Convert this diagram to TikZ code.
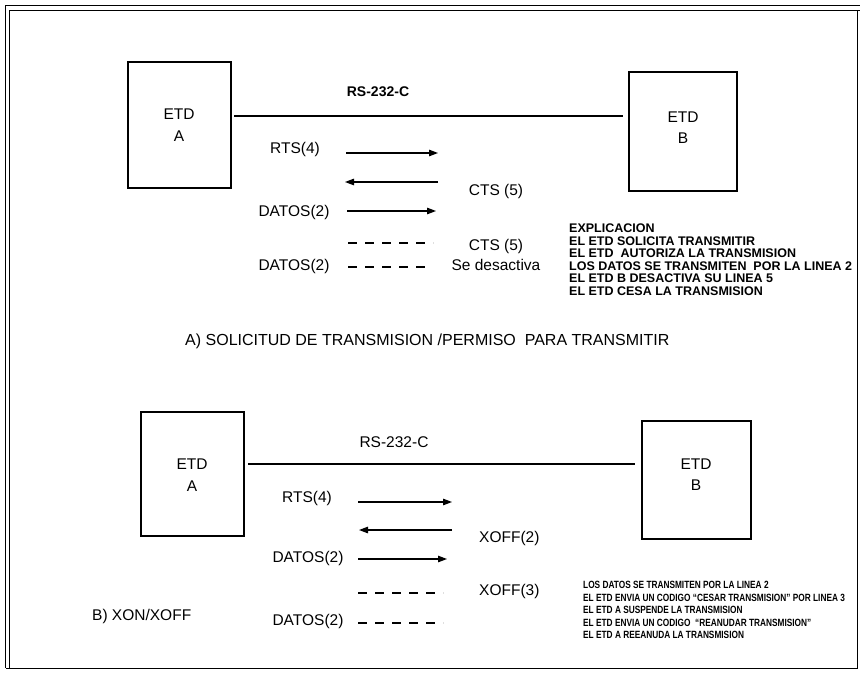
\documentclass[tikz,border=0pt]{standalone}
\usepackage{fontspec}
\setmainfont{Liberation Sans}
\newfontfamily\condfont[FakeStretch=0.79,Ligatures=TeX]{Liberation Sans}
\usetikzlibrary{arrows.meta}
\tikzset{
  ln/.style={line width=1.1pt},
  frameln/.style={line width=1pt},
  etdbox/.style={draw,line width=1.2pt,inner sep=0pt},
  lab/.style={inner sep=0pt,anchor=base,font=\fontsize{15.5}{18}\selectfont},
  labw/.style={inner sep=0pt,anchor=base west,font=\fontsize{15.5}{18}\selectfont},
  rsup/.style={inner sep=0pt,anchor=base,font=\fontsize{14}{16}\selectfont\bfseries},
  explA/.style={inner sep=0pt,anchor=base west,font=\fontsize{12.5}{14}\selectfont\bfseries},
  explB/.style={inner sep=0pt,anchor=base west,font=\condfont\fontsize{10.5}{12}\selectfont\bfseries},
  arr/.style={line width=1.2pt,-{Triangle[length=9pt,width=6.5pt]}},
  dsh/.style={line width=1.2pt,dash pattern=on 9pt off 8pt}
}
\begin{document}
\begin{tikzpicture}[x=1pt,y=-1pt]
\useasboundingbox (0,0) rectangle (860,674);
% frame
\draw[frameln] (5.5,668) -- (5.5,6) -- (860,6);
\draw[frameln] (9.5,668) -- (9.5,11) -- (860,11);
\draw[frameln] (857.5,11) -- (857.5,668) -- (5.5,668);

% ===== upper part =====
\node[etdbox,minimum width=103pt,minimum height=126pt] (boxA1) at (179.5,125) {};
\node[etdbox,minimum width=108pt,minimum height=119pt] (boxB1) at (683,131.5) {};
\node[lab] (etdA1) at (179,119.6) {ETD};
\node[lab] (lA1) at (179,141.6) {A};
\node[lab] (etdB1) at (683,122.6) {ETD};
\node[lab] (lB1) at (683,143.6) {B};
\coordinate (rs1a) at (234,116);
\coordinate (rs1b) at (623,116);
\draw[ln] (rs1a) -- (rs1b);
\node[rsup] (rs1) at (378,97) {RS-232-C};

\node[lab] (rts1) at (295,153.6) {RTS(4)};
\coordinate (a1s) at (346,153); \coordinate (a1e) at (438,153);
\draw[arr] (a1s) -- (a1e);
\coordinate (a2s) at (438,182); \coordinate (a2e) at (345,182);
\draw[arr] (a2s) -- (a2e);
\node[lab] (cts1) at (496,195.6) {CTS (5)};
\node[lab] (dat1) at (294,216.6) {DATOS(2)};
\coordinate (a3s) at (347,211); \coordinate (a3e) at (436,211);
\draw[arr] (a3s) -- (a3e);
\coordinate (d1s) at (348,243); \coordinate (d1e) at (433,243);
\draw[dsh] (d1s) -- (d1e);
\node[lab] (cts2) at (496,250.6) {CTS (5)};
\node[lab] (dat2) at (294,270.6) {DATOS(2)};
\coordinate (d2s) at (348,267); \coordinate (d2e) at (430,267);
\draw[dsh] (d2s) -- (d2e);
\node[lab] (desact) at (496,270.6) {Se desactiva};

\node[explA] (e1) at (569,232.5) {EXPLICACION};
\node[explA] (e2) at (569,245) {EL ETD SOLICITA TRANSMITIR};
\node[explA] (e3) at (569,257.5) {EL ETD\ \ AUTORIZA LA TRANSMISION};
\node[explA] (e4) at (569,270) {LOS DATOS SE TRANSMITEN\ \ POR LA LINEA 2};
\node[explA] (e5) at (569,282.5) {EL ETD B DESACTIVA SU LINEA 5};
\node[explA] (e6) at (569,295) {EL ETD CESA LA TRANSMISION};

\node[labw,font=\fontsize{16}{18}\selectfont] (titA) at (185,345.6) {A) SOLICITUD DE TRANSMISION /PERMISO\ \ PARA TRANSMITIR};

% ===== lower part =====
\node[etdbox,minimum width=103pt,minimum height=124pt] (boxA2) at (192.5,474) {};
\node[etdbox,minimum width=109pt,minimum height=118pt] (boxB2) at (696.5,480) {};
\node[lab] (etdA2) at (192,469.6) {ETD};
\node[lab] (lA2) at (192,491.6) {A};
\node[lab] (etdB2) at (696,469.6) {ETD};
\node[lab] (lB2) at (696,490.6) {B};
\coordinate (rs2a) at (248,464);
\coordinate (rs2b) at (635,464);
\draw[ln] (rs2a) -- (rs2b);
\node[lab] (rs2) at (394,447.6) {RS-232-C};

\node[lab] (rts2) at (307,502.6) {RTS(4)};
\coordinate (b1s) at (358,502); \coordinate (b1e) at (452,502);
\draw[arr] (b1s) -- (b1e);
\coordinate (b2s) at (452,530); \coordinate (b2e) at (359,530);
\draw[arr] (b2s) -- (b2e);
\node[labw] (xoff2) at (479,542.6) {XOFF(2)};
\node[lab] (dat3) at (308,562.6) {DATOS(2)};
\coordinate (b3s) at (358,559); \coordinate (b3e) at (447,559);
\draw[arr] (b3s) -- (b3e);
\coordinate (d3s) at (358,593); \coordinate (d3e) at (443,593);
\draw[dsh] (d3s) -- (d3e);
\node[labw] (xoff3) at (479,595.6) {XOFF(3)};
\node[lab] (dat4) at (308,625.6) {DATOS(2)};
\coordinate (d4s) at (358,623); \coordinate (d4e) at (443,623);
\draw[dsh] (d4s) -- (d4e);
\node[labw] (titB) at (92,620.6) {B) XON/XOFF};

\node[explB] (f1) at (583,588.8) {LOS DATOS SE TRANSMITEN POR LA LINEA 2};
\node[explB] (f2) at (583,601.3) {EL ETD ENVIA UN CODIGO “CESAR TRANSMISION” POR LINEA 3};
\node[explB] (f3) at (583,613.8) {EL ETD A SUSPENDE LA TRANSMISION};
\node[explB] (f4) at (583,626.3) {EL ETD ENVIA UN CODIGO\ \ “REANUDAR TRANSMISION”};
\node[explB] (f5) at (583,638.8) {EL ETD A REEANUDA LA TRANSMISION};
\end{tikzpicture}
\end{document}
